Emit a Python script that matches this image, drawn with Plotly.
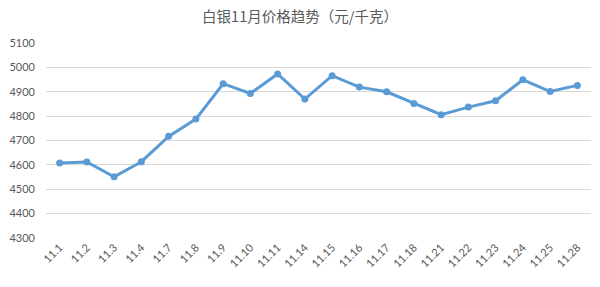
import plotly.graph_objects as go

dates = ["11.1", "11.2", "11.3", "11.4", "11.7", "11.8", "11.9", "11.10", "11.11", "11.14",
         "11.15", "11.16", "11.17", "11.18", "11.21", "11.22", "11.23", "11.24", "11.25", "11.28"]
prices = [4608, 4612, 4551, 4613, 4717, 4788, 4933, 4893, 4973, 4870,
          4966, 4919, 4900, 4852, 4806, 4837, 4863, 4949, 4901, 4926]
y_ticks = [4300, 4400, 4500, 4600, 4700, 4800, 4900, 5000, 5100]

fig = go.Figure(go.Scatter(
    x=dates, y=prices, mode="lines+markers",
    line=dict(color="#5B9BD5", width=3),
    marker=dict(color="#5B9BD5", size=7),
))

fig.update_layout(
    width=600, height=287,
    margin=dict(l=43, r=9, t=43, b=49),
    paper_bgcolor="white", plot_bgcolor="white",
    showlegend=False,
    title=dict(text="白银11月价格趋势（元/千克）", x=0.5, xanchor="center", y=0.94, yanchor="middle",
               font=dict(family="Noto Sans CJK SC", size=14.5, color="#595959")),
    font=dict(family="Lato, Open Sans", size=11, color="#595959"),
)
fig.update_xaxes(type="category", range=[-0.5, len(dates) - 0.5], tickangle=-45,
                 showgrid=False, showline=False, ticks="",
                 tickfont=dict(size=11, color="#595959"))
fig.update_yaxes(range=[4300, 5100], tickvals=y_ticks, showgrid=True, gridcolor="#d9d9d9",
                 gridwidth=1, zeroline=False, showline=False, ticks="", ticklabelstandoff=10,
                 tickfont=dict(size=11, color="#595959"))

fig.write_html("out.html")
